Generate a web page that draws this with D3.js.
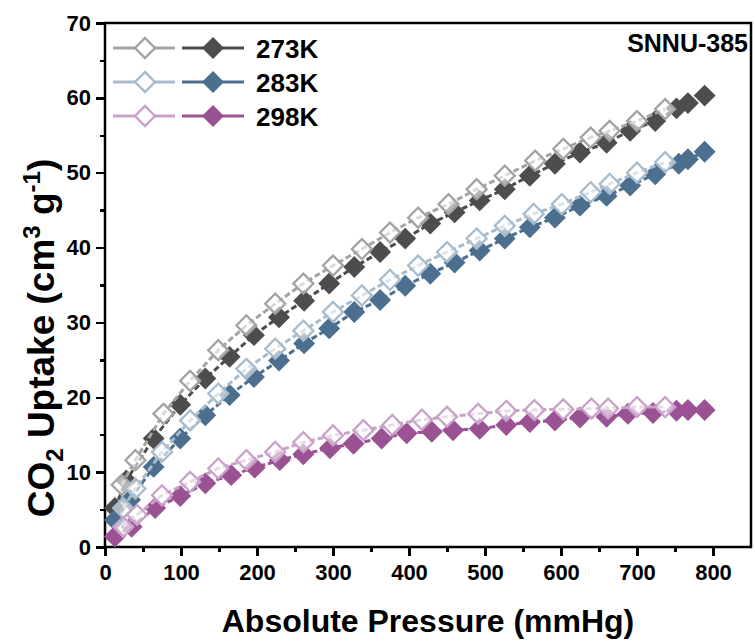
<!DOCTYPE html>
<html lang="en">
	<head>
		<meta charset="utf-8">
		<title>CO2 uptake SNNU-385</title>
		<script type="text/javascript" src="https://d3js.org/d3.v7.min.js"></script>
		<style type="text/css">
			body { margin: 0; background: #fff; }
			svg { display: block; }
			.Axis path, .Axis line {
				stroke: #000;
				stroke-width: 2.5;
				shape-rendering: crispEdges;
			}
			.Axis text {
				font-family: "Liberation Sans", Arial, sans-serif;
				font-weight: bold;
				font-size: 22px;
				fill: #000;
			}
			.title {
				font-family: "Liberation Sans", Arial, sans-serif;
				font-weight: bold;
				fill: #000;
			}
		</style>
	</head>
	<body>
		<div id="chart"></div>
		<script type="text/javascript">
			// adsorption (filled) and desorption (open) branches, mmHg vs cm3/g
			const adsP273 = [13, 28, 64, 99, 132, 164, 196, 229, 262, 295, 328, 362, 395, 428, 460, 493, 526, 559, 592, 625, 660, 691, 724, 752, 767, 789];
			const adsU273 = [5.2, 8.9, 14.5, 19.0, 22.5, 25.4, 28.3, 30.7, 32.9, 35.2, 37.4, 39.4, 41.2, 43.2, 44.7, 46.3, 47.8, 49.6, 51.2, 52.7, 54.0, 55.6, 56.9, 58.6, 59.3, 60.3];
			const desP273 = [22, 40, 77, 112, 149, 186, 224, 261, 300, 338, 375, 412, 452, 489, 526, 566, 603, 639, 664, 700, 737];
			const desU273 = [8.3, 11.6, 17.8, 22.2, 26.3, 29.6, 32.5, 35.2, 37.6, 39.8, 42.0, 44.0, 45.8, 47.8, 49.6, 51.6, 53.2, 54.7, 55.6, 56.9, 58.5];

			const adsP283 = [13, 33, 64, 99, 132, 164, 196, 229, 262, 295, 328, 362, 395, 428, 460, 493, 526, 559, 592, 625, 660, 691, 724, 755, 767, 789];
			const adsU283 = [3.6, 6.3, 10.7, 14.5, 17.6, 20.3, 22.7, 24.9, 27.2, 29.2, 31.4, 33.0, 34.9, 36.5, 38.0, 39.6, 41.2, 42.7, 44.0, 45.6, 46.9, 48.3, 49.8, 51.2, 51.8, 52.8];
			const desP283 = [24, 40, 75, 112, 149, 186, 224, 261, 300, 338, 375, 412, 450, 489, 526, 564, 601, 639, 664, 700, 737];
			const desU283 = [5.2, 7.8, 12.7, 16.9, 20.5, 23.8, 26.5, 28.9, 31.4, 33.6, 35.7, 37.6, 39.4, 41.2, 42.9, 44.5, 45.8, 47.4, 48.5, 50.0, 51.4];

			const adsP298 = [13, 35, 66, 99, 132, 166, 197, 230, 261, 296, 327, 364, 397, 430, 458, 493, 528, 559, 592, 625, 660, 688, 721, 752, 767, 789];
			const adsU298 = [1.4, 2.7, 5.2, 6.8, 8.5, 9.6, 10.6, 11.6, 12.4, 13.2, 13.8, 14.5, 15.2, 15.4, 15.6, 15.8, 16.3, 16.7, 16.9, 17.3, 17.4, 17.8, 17.9, 18.2, 18.3, 18.3];
			const desP298 = [24, 42, 75, 112, 149, 186, 224, 261, 300, 340, 378, 417, 450, 491, 528, 565, 603, 640, 662, 700, 737];
			const desU298 = [2.7, 4.3, 6.9, 8.7, 10.5, 11.6, 12.7, 14.0, 14.9, 15.6, 16.3, 17.0, 17.4, 17.8, 18.2, 18.3, 18.4, 18.5, 18.5, 18.7, 18.7];

			const temps = ["273K", "283K", "298K"];
			const fillColors = ["#4d4d4d", "#4b6f8f", "#9a5295"];
			const openColors = ["#a3a3a3", "#a9bccb", "#c9a2c8"];

			const xTicks = [0, 100, 200, 300, 400, 500, 600, 700, 800];
			const yTicks = [0, 10, 20, 30, 40, 50, 60, 70];

			const w = 755, h = 641;
			const mLeft = 105, mRight = 751, mTop = 23, mBottom = 547;

			const series = [
				{ads: [adsP273, adsU273], des: [desP273, desU273]},
				{ads: [adsP283, adsU283], des: [desP283, desU283]},
				{ads: [adsP298, adsU298], des: [desP298, desU298]}
			];

			const xScale = d3.scaleLinear().domain([0, 850]).range([mLeft, mRight]);
			const yScale = d3.scaleLinear().domain([0, 70]).range([mBottom, mTop]);

			const svg = d3.select("#chart").append("svg")
						.attr("width", w)
						.attr("height", h);

			const diamond = d3.symbol().type(d3.symbolSquare);
			const toPts = (p) => p[0].map((x, i) => [x, p[1][i]]);
			const line = d3.line().x(d => xScale(d[0])).y(d => yScale(d[1]));

			// axes: major ticks outside, minor ticks halfway
			const xMinor = d3.range(50, 850, 100);
			const yMinor = d3.range(5, 70, 10);

			svg.append("g").attr("class", "Axis")
				.attr("transform", "translate(0," + mBottom + ")")
				.call(d3.axisBottom(xScale).tickValues(xMinor).tickSize(5).tickFormat(""))
				.call(g => g.select(".domain").remove());
			svg.append("g").attr("class", "Axis")
				.attr("transform", "translate(" + mLeft + ",0)")
				.call(d3.axisLeft(yScale).tickValues(yMinor).tickSize(5).tickFormat(""))
				.call(g => g.select(".domain").remove());

			svg.append("g").attr("class", "Axis x")
				.attr("transform", "translate(0," + mBottom + ")")
				.call(d3.axisBottom(xScale).tickValues(xTicks).tickSize(9).tickSizeOuter(0).tickPadding(8))
				.call(g => g.select(".domain").remove());
			svg.append("g").attr("class", "Axis y")
				.attr("transform", "translate(" + mLeft + ",0)")
				.call(d3.axisLeft(yScale).tickValues(yTicks).tickSize(9).tickSizeOuter(0).tickPadding(5))
				.call(g => g.select(".domain").remove());

			// frame
			svg.append("rect")
				.attr("x", mLeft).attr("y", mTop)
				.attr("width", mRight - mLeft).attr("height", mBottom - mTop)
				.attr("fill", "none").attr("stroke", "#000").attr("stroke-width", 2.5);

			const plot = svg.append("g");
			series.forEach((s, k) => {
				const a = toPts(s.ads), d = toPts(s.des);
				plot.append("path").datum(a)
					.attr("d", line).attr("fill", "none")
					.attr("stroke", fillColors[k]).attr("stroke-width", 3)
					.attr("stroke-dasharray", "6,3");
				plot.append("g").selectAll("path").data(a).enter().append("path")
					.attr("d", diamond.size(240))
					.attr("transform", p => "translate(" + xScale(p[0]) + "," + yScale(p[1]) + ") rotate(45)")
					.attr("fill", fillColors[k]);
				plot.append("path").datum(d)
					.attr("d", line).attr("fill", "none")
					.attr("stroke", openColors[k]).attr("stroke-width", 3)
					.attr("stroke-dasharray", "6,3");
				plot.append("g").selectAll("path").data(d).enter().append("path")
					.attr("d", diamond.size(200))
					.attr("transform", p => "translate(" + xScale(p[0]) + "," + yScale(p[1]) + ") rotate(45)")
					.attr("fill", "#fff").attr("fill-opacity", 0.6)
					.attr("stroke", openColors[k]).attr("stroke-width", 2.3);
			});

			// legend
			const legend = svg.append("g");
			temps.forEach((t, k) => {
				const y = 48 + k * 34;
				legend.append("line").attr("x1", 113).attr("x2", 175).attr("y1", y).attr("y2", y)
					.attr("stroke", openColors[k]).attr("stroke-width", 3);
				legend.append("path").attr("d", diamond.size(200))
					.attr("transform", "translate(145," + y + ") rotate(45)")
					.attr("fill", "#fff").attr("stroke", openColors[k]).attr("stroke-width", 2.3);
				legend.append("line").attr("x1", 182).attr("x2", 244).attr("y1", y).attr("y2", y)
					.attr("stroke", fillColors[k]).attr("stroke-width", 3);
				legend.append("path").attr("d", diamond.size(240))
					.attr("transform", "translate(213," + y + ") rotate(45)")
					.attr("fill", fillColors[k]);
				legend.append("text").attr("class", "title")
					.attr("x", 256).attr("y", y + 9.5)
					.attr("font-size", "26px")
					.text(t);
			});

			svg.append("text").attr("class", "title")
				.attr("x", 748).attr("y", 52)
				.attr("text-anchor", "end")
				.attr("font-size", "25px")
				.text("SNNU-385");

			// axis titles
			svg.append("text").attr("class", "title")
				.attr("x", 428).attr("y", 632)
				.attr("text-anchor", "middle")
				.attr("font-size", "32px")
				.text("Absolute Pressure (mmHg)");

			const yt = svg.append("text").attr("class", "title")
				.attr("transform", "translate(54,338) rotate(-90)")
				.attr("text-anchor", "middle")
				.attr("font-size", "37px");
			yt.append("tspan").text("CO");
			yt.append("tspan").attr("font-size", "24px").attr("dy", 9).text("2");
			yt.append("tspan").attr("dy", -9).text(" Uptake (cm");
			yt.append("tspan").attr("font-size", "24px").attr("dy", -14).text("3");
			yt.append("tspan").attr("dy", 14).text(" g");
			yt.append("tspan").attr("font-size", "24px").attr("dy", -14).text("-1");
			yt.append("tspan").attr("dy", 14).text(")");
		</script>
	</body>
</html>
